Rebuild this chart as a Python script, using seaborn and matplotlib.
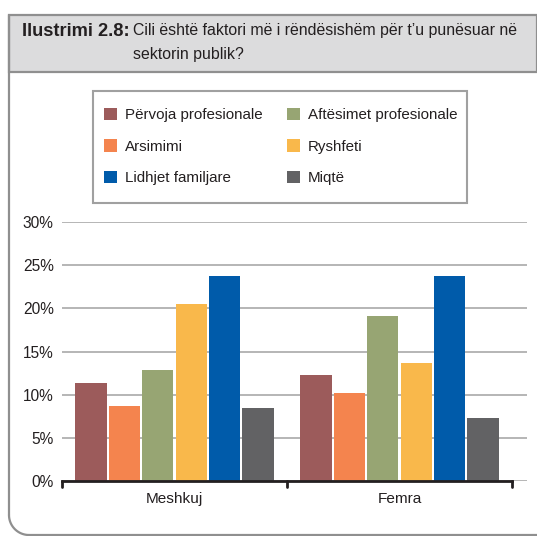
import matplotlib
matplotlib.use("Agg")
import matplotlib.pyplot as plt
from matplotlib.patches import Rectangle, Patch
from matplotlib.lines import Line2D
import seaborn as sns
import pandas as pd
import numpy as np

groups = ["Meshkuj", "Femra"]
factors = ["Përvoja profesionale", "Arsimimi", "Aftësimet profesionale",
           "Ryshfeti", "Lidhjet familjare", "Miqtë"]
meshkuj = [11.3, 8.65, 12.85, 20.45, 23.8, 8.4]
femra = [12.25, 10.15, 19.1, 13.65, 23.8, 7.3]
colors = ["#9C5B5B", "#F4844E", "#97A573", "#F9B84B", "#005BAA", "#626264"]
yticks = [0, 5, 10, 15, 20, 25, 30]
ytick_labels = ["0%", "5%", "10%", "15%", "20%", "25%", "30%"]
legend_order = [0, 1, 4, 2, 3, 5]
title_bold = "Ilustrimi 2.8:"
title_l1 = "Cili është faktori më i rëndësishëm për t’u punësuar në"
title_l2 = "sektorin publik?"

rows = []
for g, vals in zip(groups, [meshkuj, femra]):
    for f, v in zip(factors, vals):
        rows.append({"group": g, "factor": f, "value": v})
df = pd.DataFrame(rows)

sns.set_style("white")
FONT = ["Liberation Sans", "DejaVu Sans"]
plt.rcParams["font.family"] = FONT
TXT = "#231f20"

W, H = 537, 536
fig = plt.figure(figsize=(W / 100, H / 100), dpi=100)
renderer = fig.canvas.get_renderer()


def fit(text, target_px, weight="normal", base=12.0):
    t = fig.text(0, 0, text, fontsize=base, family=FONT, fontweight=weight)
    w = t.get_window_extent(renderer).width
    t.remove()
    return base * target_px / w


def fx(px):
    return px / W


def fy(py):
    return 1 - py / H


# outer frame
frame_col = "#8f8f8f"
fig.add_artist(Line2D([fx(9), fx(9)], [fy(15), fy(515)], color=frame_col, lw=1.6, transform=fig.transFigure))
t = np.linspace(np.pi, 1.5 * np.pi, 30)
r = 20
cx, cy = 29, 515
fig.add_artist(Line2D(fx(cx + r * np.cos(t)), fy(cy - r * np.sin(t)), color=frame_col, lw=1.6, transform=fig.transFigure))
fig.add_artist(Line2D([fx(29), fx(537)], [fy(535), fy(535)], color=frame_col, lw=1.6, transform=fig.transFigure))

# title box
fig.add_artist(Rectangle((fx(9), fy(72)), fx(537) - fx(9), fy(15) - fy(72),
                         facecolor="#dcdcdd", edgecolor=frame_col, lw=1.6,
                         transform=fig.transFigure, zorder=0))
fs_title = fit(title_l1, 385)
fs_bold = fit(title_bold, 107, weight="bold")
fig.text(fx(22), fy(31), title_bold, fontsize=fs_bold, fontweight="bold",
         color=TXT, va="center", ha="left", family=FONT)
fig.text(fx(133), fy(31), title_l1, fontsize=fs_title, color=TXT,
         va="center", ha="left", family=FONT)
fig.text(fx(133), fy(55), title_l2, fontsize=fs_title, color=TXT,
         va="center", ha="left", family=FONT)

# axes
y0, y30 = 481, 222
ax = fig.add_axes([fx(62), fy(y0), fx(527) - fx(62), fy(y30) - fy(y0)])
sns.barplot(data=df, x="group", y="value", hue="factor", hue_order=factors,
            order=groups, palette=colors, width=0.89, gap=0.06,
            linewidth=0, saturation=1, ax=ax, legend=False, zorder=3)
ax.set_ylim(0, 30)
ax.set_xlim(-0.5, 1.5 + 15 / 225)
ax.set_yticks(yticks)
ax.set_yticklabels(ytick_labels)
ax.yaxis.grid(True, color="#b5b5b5", lw=1.4, zorder=0)
ax.set_axisbelow(True)
for s in ["top", "right", "left"]:
    ax.spines[s].set_visible(False)
ax.spines["bottom"].set_bounds(-0.5, 1.5)
ax.spines["bottom"].set_linewidth(2)
ax.spines["bottom"].set_color(TXT)
ax.spines["bottom"].set_zorder(5)
ax.set_xlabel("")
ax.set_ylabel("")
fs_tick = fit("30%", 27) * 1.15
fs_cat = fit("Meshkuj", 50) * 1.15
ax.tick_params(axis="y", length=0, pad=6, labelsize=fs_tick, labelcolor=TXT)
ax.set_xticks([0, 1])
ax.set_xticklabels(groups)
ax.tick_params(axis="x", length=0, pad=8, labelsize=fs_cat, labelcolor=TXT)
for xb in [-0.5, 0.5, 1.5]:
    ax.plot([xb, xb], [0, -0.75], color=TXT, lw=2, clip_on=False, zorder=5)

# legend (frame drawn separately)
fig.add_artist(Rectangle((fx(93), fy(203)), fx(467) - fx(93), fy(91) - fy(203),
                         facecolor="white", edgecolor="#a0a0a0", lw=1.5,
                         transform=fig.transFigure, zorder=1))
fs_leg = fit("Aftësimet profesionale", 150)
fpx = fs_leg * 100 / 72
handles = [Patch(facecolor=colors[i], edgecolor="none") for i in legend_order]
labels = [factors[i] for i in legend_order]
leg = fig.legend(handles, labels, ncol=2, loc="center left",
                 bbox_to_anchor=(fx(104), fy(146.5)), frameon=False,
                 fontsize=fs_leg, handlelength=13 / fpx, handleheight=13 / fpx,
                 handletextpad=8 / fpx, labelspacing=17 / fpx,
                 columnspacing=24 / fpx, borderpad=0, borderaxespad=0)
leg.set_zorder(2)
for txt in leg.get_texts():
    txt.set_color(TXT)

fig.savefig("out.png", dpi=100)
